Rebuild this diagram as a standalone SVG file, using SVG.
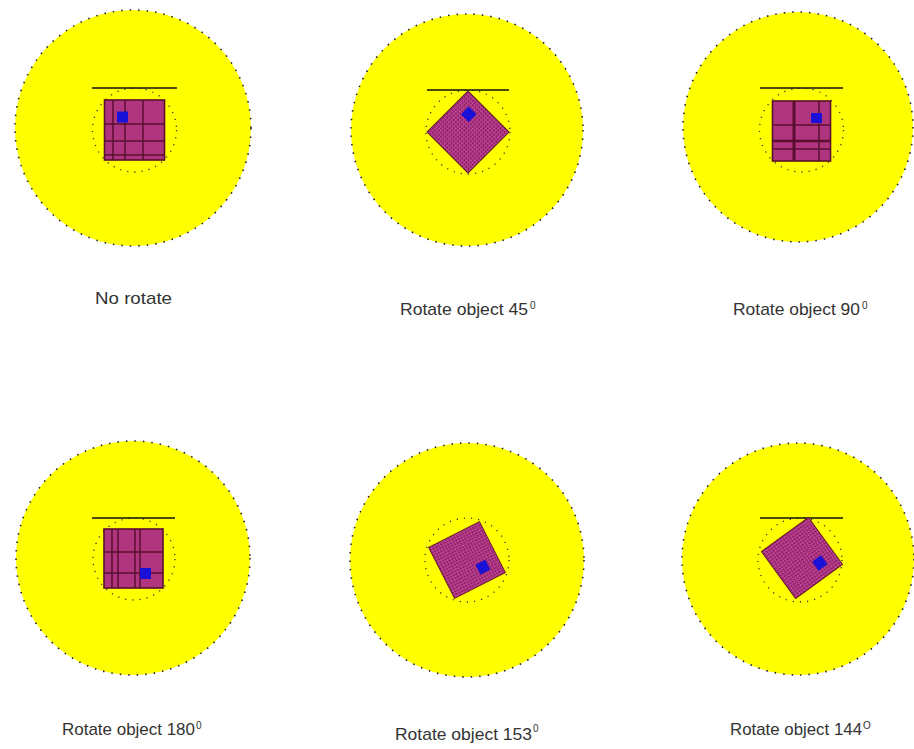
<svg xmlns="http://www.w3.org/2000/svg" width="914" height="749" viewBox="0 0 914 749">
<defs>
<style>
.outer{fill:#ffff00;stroke:#222;stroke-width:1.6;stroke-dasharray:1.5 7;}
.inner{fill:none;stroke:#333;stroke-width:1.3;stroke-dasharray:1.2 6;}
.bar{stroke:#111;stroke-width:1.6;}
.sq{fill:#b0357f;stroke:#5a0f30;stroke-width:1.6;}
.grid{stroke:#5a0f30;stroke-width:1.5;}
.tex{fill:url(#speckle);stroke:#6a1a30;stroke-width:1;}
.blue{fill:#1a10d8;}
.lbl{font-family:"Liberation Sans",Arial,sans-serif;font-size:17px;fill:#333;}
.sup{font-family:"Liberation Sans",Arial,sans-serif;font-size:10px;fill:#333;}
</style>
<pattern id="speckle" width="3" height="3" patternUnits="userSpaceOnUse">
<rect width="3" height="3" fill="#a52e7c"/>
<rect x="0" y="0" width="1" height="1" fill="#d65eaa"/>
<rect x="2" y="1" width="1" height="1" fill="#6e1450"/>
<rect x="1" y="2" width="1" height="1" fill="#c84c98"/>
</pattern>
</defs>

<g id="panel-0">
<circle class="outer" cx="133" cy="128" r="118"/>
<circle class="inner" cx="134.5" cy="130" r="42"/>
<line class="bar" x1="92" y1="88" x2="177" y2="88"/>
<rect class="sq" x="104.5" y="100" width="60" height="60"/>
<g class="grid">
<line x1="113" y1="100" x2="113" y2="160"/>
<line x1="125" y1="100" x2="125" y2="160"/>
<line x1="143" y1="100" x2="143" y2="160"/>
<line x1="104.5" y1="124" x2="164.5" y2="124"/>
<line x1="104.5" y1="141" x2="164.5" y2="141"/>
<line x1="104.5" y1="155" x2="164.5" y2="155"/>
</g>
<rect class="blue" x="117" y="111.5" width="11" height="11"/>
<text class="lbl" x="95" y="304" textLength="77" lengthAdjust="spacingAndGlyphs">No rotate</text>
</g>

<g id="panel-45">
<circle class="outer" cx="467" cy="130" r="116"/>
<circle class="inner" cx="468" cy="132" r="42"/>
<line class="bar" x1="427" y1="90" x2="509" y2="90"/>
<g transform="translate(468,132) rotate(45)">
<rect class="tex" x="-29" y="-29" width="58" height="58"/>
<rect class="blue" x="-17.5" y="-18.5" width="11" height="11"/>
</g>
<text class="lbl" x="400" y="315" textLength="128" lengthAdjust="spacingAndGlyphs">Rotate object 45</text>
<text class="sup" x="530" y="309">0</text>
</g>

<g id="panel-90">
<circle class="outer" cx="798" cy="127" r="115"/>
<circle class="inner" cx="801.5" cy="130" r="42"/>
<line class="bar" x1="760" y1="88" x2="843" y2="88"/>
<rect class="sq" x="772.5" y="101" width="58" height="60"/>
<g class="grid">
<line x1="794" y1="101" x2="794" y2="161" style="stroke-width:3"/>
<line x1="819" y1="101" x2="819" y2="161"/>
<line x1="772.5" y1="125" x2="830.5" y2="125"/>
<line x1="772.5" y1="141" x2="830.5" y2="141" style="stroke-width:2.5"/>
<line x1="772.5" y1="149" x2="830.5" y2="149"/>
</g>
<rect class="blue" x="811" y="113" width="11" height="10"/>
<text class="lbl" x="733" y="315" textLength="127" lengthAdjust="spacingAndGlyphs">Rotate object 90</text>
<text class="sup" x="862" y="309">0</text>
</g>

<g id="panel-180">
<circle class="outer" cx="133" cy="558" r="117"/>
<circle class="inner" cx="134" cy="559" r="41"/>
<line class="bar" x1="92" y1="518" x2="175" y2="518"/>
<rect class="sq" x="104" y="529" width="59" height="59"/>
<g class="grid">
<line x1="112" y1="529" x2="112" y2="588"/>
<line x1="118" y1="529" x2="118" y2="588"/>
<line x1="135" y1="529" x2="135" y2="588"/>
<line x1="140" y1="529" x2="140" y2="588"/>
<line x1="104" y1="552" x2="163" y2="552"/>
<line x1="104" y1="573" x2="163" y2="573"/>
</g>
<rect class="blue" x="140" y="568" width="11" height="11"/>
<text class="lbl" x="62" y="735" textLength="133" lengthAdjust="spacingAndGlyphs">Rotate object 180</text>
<text class="sup" x="196" y="729">0</text>
</g>

<g id="panel-153">
<circle class="outer" cx="467" cy="560" r="117"/>
<circle class="inner" cx="467" cy="560" r="42"/>
<g transform="translate(467,560) rotate(-27)">
<rect class="tex" x="-28.5" y="-28.5" width="57" height="57"/>
<rect class="blue" x="5.5" y="8" width="11" height="11"/>
</g>
<text class="lbl" x="395" y="740" textLength="137" lengthAdjust="spacingAndGlyphs">Rotate object 153</text>
<text class="sup" x="533" y="732">0</text>
</g>

<g id="panel-144">
<circle class="outer" cx="798" cy="559" r="116"/>
<circle class="inner" cx="800" cy="560" r="42"/>
<line class="bar" x1="760" y1="518" x2="843" y2="518"/>
<g transform="translate(802,558) rotate(-36)">
<rect class="tex" x="-29" y="-29" width="58" height="58"/>
<rect class="blue" x="6" y="9" width="11" height="11"/>
</g>
<text class="lbl" x="730" y="735" textLength="132" lengthAdjust="spacingAndGlyphs">Rotate object 144</text>
<text class="sup" x="863" y="729">O</text>
</g>

<g id="connectors"></g>
</svg>
